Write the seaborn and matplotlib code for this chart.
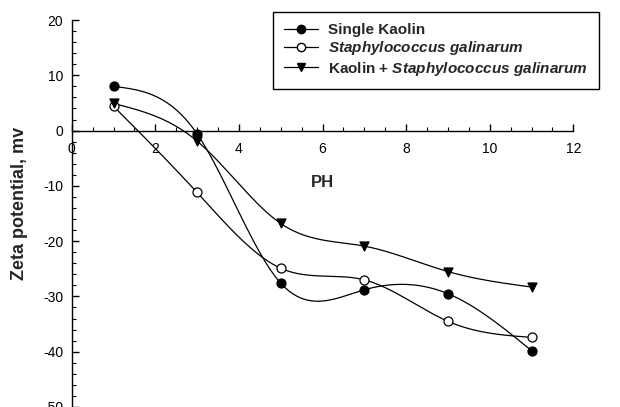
import matplotlib
matplotlib.use("Agg")
import matplotlib.pyplot as plt
from matplotlib.lines import Line2D
from matplotlib.ticker import MultipleLocator
import numpy as np
import pandas as pd
import seaborn as sns

# values
ph = [1, 3, 5, 7, 9, 11]
kaolin = [8.0, -0.6, -27.6, -28.8, -29.5, -39.8]
staph = [4.4, -11.2, -24.9, -27.0, -34.5, -37.4]
kaolin_staph = [4.9, -1.9, -16.8, -20.9, -25.5, -28.3]

labels = ["Single Kaolin",
          r"$Staphylococcus\ galinarum$",
          r"Kaolin + $Staphylococcus\ galinarum$"]
xticks = [0, 2, 4, 6, 8, 10, 12]
yticks = [20, 10, 0, -10, -20, -30, -40, -50]


def natural_spline(x, y, n=300):
    # smooth connecting line through the measured points
    x = np.asarray(x, float)
    y = np.asarray(y, float)
    h = np.diff(x)
    m = len(x)
    A = np.zeros((m, m))
    b = np.zeros(m)
    A[0, 0] = A[-1, -1] = 1
    for i in range(1, m - 1):
        A[i, i - 1] = h[i - 1]
        A[i, i] = 2 * (h[i - 1] + h[i])
        A[i, i + 1] = h[i]
        b[i] = 6 * ((y[i + 1] - y[i]) / h[i] - (y[i] - y[i - 1]) / h[i - 1])
    M = np.linalg.solve(A, b)
    xs = np.linspace(x[0], x[-1], n)
    idx = np.clip(np.searchsorted(x, xs) - 1, 0, m - 2)
    x0, x1 = x[idx], x[idx + 1]
    hh = x1 - x0
    t0, t1 = x1 - xs, xs - x0
    ys = (M[idx] * t0 ** 3 / (6 * hh) + M[idx + 1] * t1 ** 3 / (6 * hh)
          + (y[idx] / hh - M[idx] * hh / 6) * t0
          + (y[idx + 1] / hh - M[idx + 1] * hh / 6) * t1)
    return xs, ys


def main():
    sns.set_style("ticks")
    plt.rcParams["font.family"] = ["Liberation Sans", "DejaVu Sans"]
    plt.rcParams["axes.unicode_minus"] = False
    plt.rcParams["mathtext.fontset"] = "custom"
    plt.rcParams["mathtext.it"] = "Liberation Sans:italic:bold"
    plt.rcParams["mathtext.rm"] = "Liberation Sans:bold"
    plt.rcParams["mathtext.bf"] = "Liberation Sans:bold"

    fig = plt.figure(figsize=(6.2, 4.07), dpi=100)
    ax = fig.add_axes([71.7 / 620, 0.0, (573.3 - 71.7) / 620, 387 / 407])

    series = [
        (kaolin, "o", "black"),
        (staph, "o", "white"),
        (kaolin_staph, "v", "black"),
    ]
    handles = []
    for (vals, mk, face), lab in zip(series, labels):
        xs, ys = natural_spline(ph, vals)
        curve = pd.DataFrame({"x": xs, "y": ys})
        sns.lineplot(data=curve, x="x", y="y", ax=ax, color="black",
                     linewidth=0.9, sort=False, estimator=None)
        pts = pd.DataFrame({"x": ph, "y": vals})
        sns.scatterplot(data=pts, x="x", y="y", ax=ax, marker=mk, s=42,
                        color=face, edgecolor="black", linewidth=0.9,
                        zorder=3)
        handles.append(Line2D([0], [0], color="black", lw=0.9, marker=mk,
                              markersize=6, markerfacecolor=face,
                              markeredgecolor="black", label=lab))

    ax.set_xlim(0, 12)
    ax.set_ylim(-50, 20)
    ax.set_xticks(xticks)
    ax.set_yticks(yticks)
    ax.xaxis.set_minor_locator(MultipleLocator(0.5))
    ax.yaxis.set_minor_locator(MultipleLocator(2))

    ax.spines["top"].set_visible(False)
    ax.spines["right"].set_visible(False)
    ax.spines["bottom"].set_position(("data", 0))
    for s in ("left", "bottom"):
        ax.spines[s].set_color("black")
        ax.spines[s].set_linewidth(1)

    ax.tick_params(axis="both", which="major", direction="in", length=5,
                   width=1, labelsize=10, colors="black")
    ax.tick_params(axis="both", which="minor", direction="in", length=3,
                   width=0.8, colors="black")
    ax.tick_params(axis="x", which="major", pad=8)
    ax.tick_params(axis="y", which="major", pad=6)

    ax.set_xlabel("PH", fontsize=12, fontweight="bold")
    ax.xaxis.set_label_coords(0.5, 0.60)
    ax.set_ylabel("Zeta potential, mv", fontsize=13, fontweight="bold")
    ax.yaxis.set_label_coords(-0.087, 0.526)

    leg = ax.legend(handles=handles, loc="upper right",
                    bbox_to_anchor=(599 / 620, 1 - 12 / 407),
                    bbox_transform=fig.transFigure, borderaxespad=0,
                    frameon=True, fancybox=False, framealpha=1,
                    edgecolor="black", handlelength=2.23, handletextpad=0.65,
                    borderpad=0.72, labelspacing=0.15, numpoints=1,
                    prop={"weight": "bold", "size": 11})
    leg.get_frame().set_linewidth(1)

    fig.savefig("out.png", dpi=100)


if __name__ == "__main__":
    main()
